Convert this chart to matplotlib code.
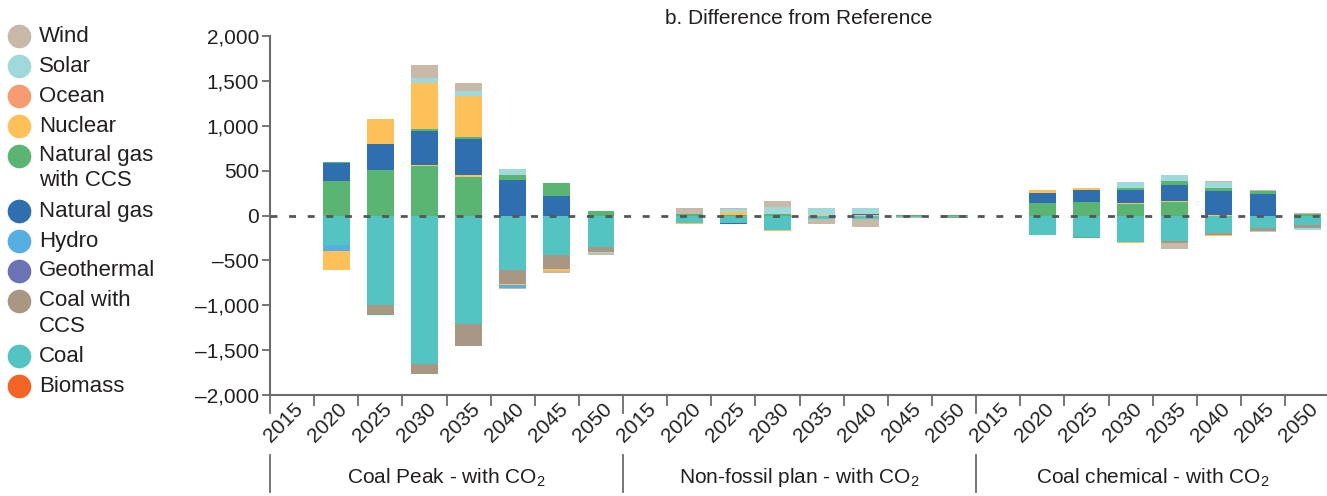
import numpy as np
import matplotlib
matplotlib.use('Agg')
from matplotlib import pyplot as plt
from matplotlib.lines import Line2D
from matplotlib.transforms import ScaledTranslation, blended_transform_factory
from matplotlib.ticker import FuncFormatter

plt.rcParams['font.family'] = ['Liberation Sans', 'DejaVu Sans']
plt.rcParams['mathtext.fontset'] = 'custom'
plt.rcParams['mathtext.rm'] = 'Liberation Sans'
plt.rcParams['mathtext.it'] = 'Liberation Sans'

# categories
years = ['2015', '2020', '2025', '2030', '2035', '2040', '2045', '2050']
scenarios = ['Coal Peak - with CO$_2$', 'Non-fossil plan - with CO$_2$',
             'Coal chemical - with CO$_2$']

# difference from reference, one row of 8 years per scenario
ng_ccs = [0, 387, 510, 555, 432, 0, 0, 52,
          0, 15, 11, 18, -11, 0, 7, 7,
          0, 142, 154, 131, 154, 0, 0, 22]
coal = [0, -328, -998, -1653, -1207, -603, -439, -350,
        0, -80, -82, -160, -30, -37, -20, -18,
        0, -220, -243, -291, -280, -190, -139, -105]
coal_ccs = [0, 0, -100, -115, -250, -160, -156, -56,
            0, 0, 0, 0, 0, 0, 0, -8,
            0, 0, 0, -8, -30, -27, -30, -30]
hydro = [0, -67, 0, 0, 0, 0, 0, 0,
         0, 0, 0, 0, 0, 0, 0, 0,
         0, 0, 0, 0, 0, 0, 0, 0]
nuclear_lo = [0, -212, 0, 11, 22, -15, -22, 0,
              0, -10, 30, -11, 7, 7, 0, 0,
              0, 0, 0, 11, 11, 11, 0, 0]
natural_gas = [0, 201, 290, 380, 402, 391, 220, 0,
               0, 0, -11, 0, 0, 11, 0, 0,
               0, 112, 135, 146, 180, 266, 243, 0]
ng_ccs_hi = [0, 12, -11, 15, 22, 56, 145, 0,
             0, 0, 0, 0, 0, 0, 0, 0,
             0, 0, -7, 22, 34, 34, 34, 0]
hydro_hi = [0, 0, 0, 0, 0, -26, 0, 0,
            0, 0, 0, 0, 0, 0, 0, 0,
            0, 0, 0, 0, 0, 0, 0, 0]
nuclear = [0, 0, 279, 514, 458, 0, 0, 0,
           0, 0, 0, 0, 0, 0, 0, 0,
           0, 34, 22, -11, 0, -11, 0, 0]
solar = [0, 0, 0, 52, 56, 67, 0, -15,
         0, 0, 33, 78, 74, 67, 0, 0,
         0, 0, 0, 67, 67, 67, -19, -26]
wind = [0, 0, 0, 145, 89, -11, -19, -15,
        0, 70, 11, 67, -52, -89, -11, 0,
        0, 0, 0, 0, -67, 11, 11, 11]

colors = {
    'Wind': '#C8B9A9',
    'Solar': '#A0D9D9',
    'Ocean': '#F79C72',
    'Nuclear': '#FEC15A',
    'Natural gas\nwith CCS': '#5BB572',
    'Natural gas': '#2F6FAF',
    'Hydro': '#56AFE2',
    'Geothermal': '#6C73B5',
    'Coal with\nCCS': '#A89783',
    'Coal': '#53C4C2',
    'Biomass': '#F26524',
}

# stacking order, from zero outwards
layers = [
    (ng_ccs, 'Natural gas\nwith CCS'),
    (coal, 'Coal'),
    (coal_ccs, 'Coal with\nCCS'),
    (hydro, 'Hydro'),
    (nuclear_lo, 'Nuclear'),
    (natural_gas, 'Natural gas'),
    (ng_ccs_hi, 'Natural gas\nwith CCS'),
    (hydro_hi, 'Hydro'),
    (nuclear, 'Nuclear'),
    (solar, 'Solar'),
    (wind, 'Wind'),
]

txt = '#231F20'
grey = '#6B6B6B'
W, H = 1327, 496
fig = plt.figure(figsize=(W / 100, H / 100), dpi=100)
ax = fig.add_axes([270 / W, 1 - 395 / H, (W - 270) / W, (395 - 36) / H])

n = len(years) * len(scenarios)
x = np.arange(n)
pos = np.zeros(n)
neg = np.zeros(n)
for vals, name in layers:
    v = np.array(vals, dtype=float)
    base = np.where(v >= 0, pos, neg)
    ax.bar(x, v, bottom=base, width=0.61, color=colors[name], linewidth=0, zorder=2)
    pos = pos + np.clip(v, 0, None)
    neg = neg + np.clip(v, None, 0)

ax.axhline(0, color='#555555', lw=2, dashes=(2.5, 4.2), zorder=3)

ax.set_ylim(-2000, 2000)
ax.set_xlim(-0.5, 23.45)
ax.set_yticks(np.arange(-2000, 2001, 500))
ax.yaxis.set_major_formatter(FuncFormatter(
    lambda v, p: ('\u2013' if v < 0 else '') + f'{abs(v):,.0f}'))
ax.tick_params(axis='y', length=6, width=1.3, color=grey, labelsize=15,
               labelcolor=txt, pad=2)

ax.set_xticks(x)
ax.set_xticklabels(years * len(scenarios))
ax.tick_params(axis='x', which='major', length=0, labelsize=15,
               labelcolor=txt, pad=3)
for lab in ax.get_xticklabels():
    lab.set_rotation(45)
    lab.set_ha('right')
    lab.set_va('top')
    lab.set_transform(lab.get_transform() + ScaledTranslation(0.15, 0, fig.dpi_scale_trans))

bounds = np.arange(-0.5, n, 1.0)
seps = bounds[::len(years)]
ax.set_xticks([b for b in bounds if b not in seps], minor=True)
ax.tick_params(axis='x', which='minor', length=8, width=1.3, color=grey)

for s in ['top', 'right']:
    ax.spines[s].set_visible(False)
for s in ['left', 'bottom']:
    ax.spines[s].set_color(grey)
    ax.spines[s].set_linewidth(1.5)

tr = blended_transform_factory(ax.transData, ax.transAxes)
for sx in list(seps) + [n - 0.5]:
    ax.add_line(Line2D([sx, sx], [0, -0.05], transform=tr, color=grey, lw=1.3, clip_on=False))
    ax.add_line(Line2D([sx, sx], [-0.167, -0.27], transform=tr, color=grey, lw=1.3, clip_on=False))
for i, name in enumerate(scenarios):
    ax.text(i * len(years) + 3.5, -0.231, name, transform=tr, ha='center', va='center',
            fontsize=15, color=txt)

fig.text((270 + W) / 2 / W, 1 - 18 / H, 'b. Difference from Reference', ha='center',
         va='center', fontsize=15, color=txt)

# legend on the left
lax = fig.add_axes([0, 0, 270 / W, 1])
lax.set_xlim(0, 270)
lax.set_ylim(H, 0)
lax.axis('off')
y = 36
for name in colors:
    lines = name.split('\n')
    lax.scatter([19], [y], s=290, color=colors[name], linewidths=0)
    for k, line in enumerate(lines):
        lax.text(39, y + k * 25, line, ha='left', va='center', fontsize=16, color=txt)
    y += 30 + 25 * (len(lines) - 1)

fig.savefig('out.png', dpi=100)
